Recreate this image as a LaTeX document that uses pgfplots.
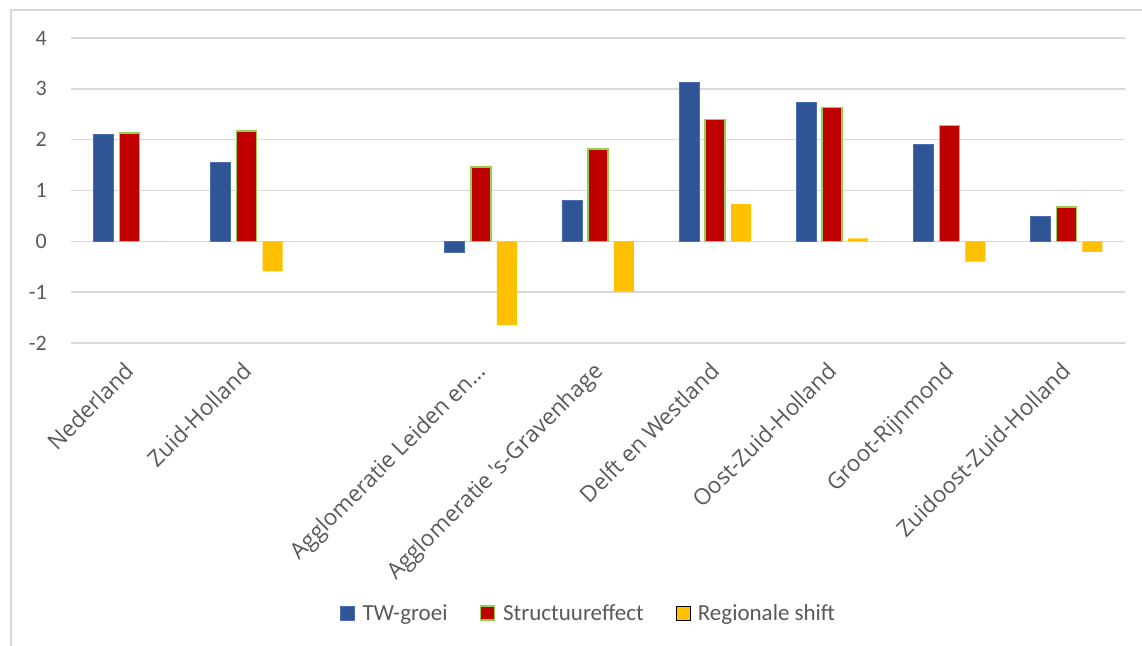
\documentclass[border=0pt]{standalone}
\usepackage{pgfplots}
\pgfplotsset{compat=1.18}
\usepackage{fontspec}
\setmainfont{Carlito}
\newfontfamily\xfont{Open Sans}
\definecolor{twblue}{HTML}{2F5597}
\definecolor{twblueedge}{HTML}{4A6FB0}
\definecolor{stred}{HTML}{C00000}
\definecolor{stgreen}{HTML}{92D050}
\definecolor{rsyellow}{HTML}{FFC000}
\definecolor{gridgray}{HTML}{D9D9D9}
\definecolor{labelgray}{HTML}{595959}
\begin{document}
\begin{tikzpicture}[x=1bp,y=1bp]
\useasboundingbox (0,0) rectangle (1142,646);
\draw[color=gridgray, line width=2bp] (11,0) -- (11,636) -- (1142,636);
\begin{axis}[
  at={(71bp,303bp)}, anchor=south west,
  scale only axis, width=1054bp, height=305bp,
  xmin=-0.5, xmax=8.5, ymin=-2, ymax=4,
  ybar=6bp, bar width=20bp,
  axis line style={draw=none},
  major tick length=0pt,
  ytick={-2,-1,0,1,2,3,4},
  ymajorgrids, grid style={color=gridgray, line width=1.6bp},
  xtick={0,1,3,4,5,6,7,8},
  xticklabels={Nederland,Zuid-Holland,Agglomeratie Leiden en\dots,Agglomeratie 's-Gravenhage,Delft en Westland,Oost-Zuid-Holland,Groot-Rijnmond,Zuidoost-Zuid-Holland},
  xticklabel style={xshift=-6bp, yshift=-17.5bp, rotate=45, anchor=north east, inner sep=0pt,
    font=\xfont\fontsize{22.5bp}{26bp}\selectfont, text=labelgray},
  yticklabel style={anchor=east, inner sep=0pt, xshift=-24bp,
    font=\fontsize{22bp}{26bp}\selectfont, text=labelgray},
  /pgf/number format/assume math mode=true,
  legend image code/.code={\draw[#1] (0bp,-7bp) rectangle (14bp,7bp); \path (20bp,0bp);},
  legend style={at={(0.491,-0.885)}, anchor=center, draw=none, fill=none,
    legend columns=3, font=\fontsize{23bp}{27bp}\selectfont, text=labelgray,
    /tikz/every even column/.append style={column sep=30bp},
    legend cell align=left, inner sep=0pt},
]
\addplot[fill=twblue, draw=twblueedge, line width=0.8bp] coordinates {
 (0,2.10) (1,1.55) (3,-0.21) (4,0.81) (5,3.12) (6,2.73) (7,1.90) (8,0.49)};
\addplot[fill=stred, draw=stgreen, line width=1.5bp] coordinates {
 (0,2.13) (1,2.17) (3,1.46) (4,1.82) (5,2.40) (6,2.63) (7,2.28) (8,0.68)};
\addplot[fill=rsyellow, draw=none] coordinates {
 (0,0) (1,-0.59) (3,-1.65) (4,-0.99) (5,0.73) (6,0.06) (7,-0.40) (8,-0.21)};
\legend{TW-groei,Structuureffect,Regionale shift}
\end{axis}
\end{tikzpicture}
\end{document}
